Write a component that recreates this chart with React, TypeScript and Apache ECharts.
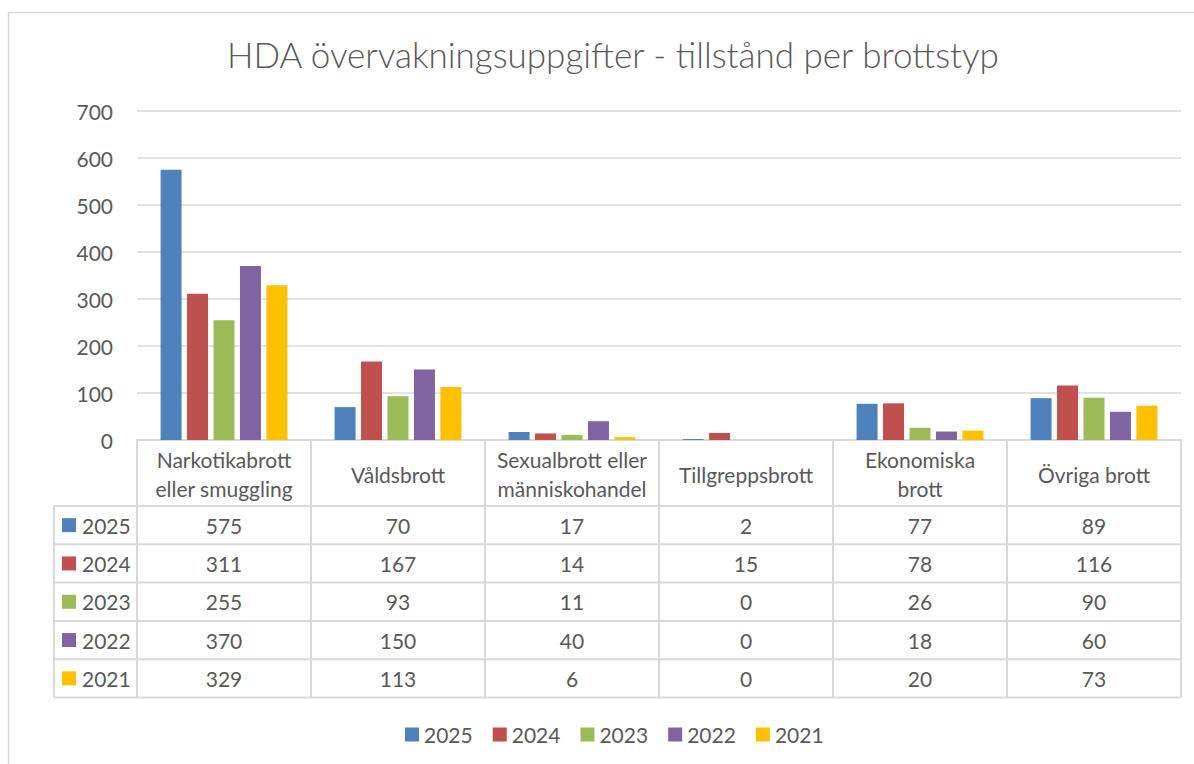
import React, { useEffect, useRef } from "react";
import * as echarts from "echarts";

const categories = [
  "Narkotikabrott\neller smuggling",
  "Våldsbrott",
  "Sexualbrott eller\nmänniskohandel",
  "Tillgreppsbrott",
  "Ekonomiska\nbrott",
  "Övriga brott",
];
const years = ["2025", "2024", "2023", "2022", "2021"];
const v2025 = [575, 70, 17, 2, 77, 89];
const v2024 = [311, 167, 14, 15, 78, 116];
const v2023 = [255, 93, 11, 0, 26, 90];
const v2022 = [370, 150, 40, 0, 18, 60];
const v2021 = [329, 113, 6, 0, 20, 73];
const seriesValues = [v2025, v2024, v2023, v2022, v2021];
const colors = ["#4F81BD", "#C0504D", "#9BBB59", "#8064A2", "#FFC000"];
const yMin = 0;
const yMax = 700;
const yInterval = 100;

const FONT = "Lato, 'Open Sans', sans-serif";
const TXT = "#595959";
const LINE = "#d9d9d9";
const FS = 21;

export default function App() {
  const ref = useRef<HTMLDivElement>(null);
  useEffect(() => {
    document.body.style.margin = "0";
    const chart = echarts.init(ref.current!, null, { renderer: "svg" });
    const option: any = {
      animation: false,
      backgroundColor: "#ffffff",
      color: colors,
      textStyle: { fontFamily: FONT },
      title: {
        text: "HDA övervakningsuppgifter - tillstånd per brottstyp",
        left: 608,
        top: 31,
        textAlign: "center",
        textStyle: { fontFamily: FONT, fontSize: 35, fontWeight: 300, color: TXT },
      },
      legend: {
        data: years,
        left: 400,
        top: 719,
        icon: "rect",
        itemWidth: 14,
        itemHeight: 14,
        itemGap: 20,
        textStyle: { fontFamily: FONT, fontSize: FS, color: TXT },
      },
      grid: { left: 137, right: 13, top: 111, bottom: 324, containLabel: false },
      xAxis: {
        type: "category",
        data: categories,
        axisLine: { show: true, lineStyle: { color: LINE, width: 2 } },
        axisTick: { show: false },
        axisLabel: {
          interval: 0,
          fontFamily: FONT,
          fontSize: FS,
          color: TXT,
          lineHeight: 29,
          margin: 34,
          verticalAlign: "middle",
          align: "center",
        },
      },
      yAxis: {
        type: "value",
        min: yMin,
        max: yMax,
        interval: yInterval,
        axisLine: { show: false },
        axisTick: { show: false },
        axisLabel: { fontFamily: FONT, fontSize: FS, color: TXT, margin: 24 },
        splitLine: { lineStyle: { color: LINE, width: 1.5 } },
      },
      series: years.map((y, i) => ({
        name: y,
        type: "bar",
        data: seriesValues[i],
        barWidth: 21,
        barGap: "26%",
        itemStyle: { color: colors[i] },
      })),
    };
    chart.setOption(option);

    const c0 = chart.convertToPixel({ xAxisIndex: 0 }, 0) as number;
    const c1 = chart.convertToPixel({ xAxisIndex: 0 }, 1) as number;
    const band = c1 - c0;
    const left = c0 - band / 2;
    const right = left + band * categories.length;
    const yBase = chart.convertToPixel({ yAxisIndex: 0 }, 0) as number;
    const headerH = 66;
    const rowH = 38.3;
    const legendLeft = 54;
    const bodyTop = yBase + headerH;
    const bottom = bodyTop + rowH * years.length;

    const g: any[] = [];
    g.push({
      type: "rect",
      shape: { x: 8.5, y: 12.5, width: 1400, height: 900 },
      style: { fill: "none", stroke: LINE, lineWidth: 1.5 },
      silent: true,
      z: -1,
    });
    for (let k = 0; k <= years.length; k++) {
      const y = bodyTop + k * rowH;
      g.push({
        type: "line",
        shape: { x1: legendLeft, y1: y, x2: right, y2: y },
        style: { stroke: LINE, lineWidth: 2 },
        silent: true,
      });
    }
    for (let i = 0; i <= categories.length; i++) {
      const x = left + i * band;
      g.push({
        type: "line",
        shape: { x1: x, y1: yBase, x2: x, y2: bottom },
        style: { stroke: LINE, lineWidth: 2 },
        silent: true,
      });
    }
    g.push({
      type: "line",
      shape: { x1: legendLeft, y1: bodyTop, x2: legendLeft, y2: bottom },
      style: { stroke: LINE, lineWidth: 2 },
      silent: true,
    });
    years.forEach((yr, s) => {
      const cy = bodyTop + (s + 0.5) * rowH;
      g.push({
        type: "rect",
        shape: { x: 62, y: cy - 7, width: 14, height: 14 },
        style: { fill: colors[s] },
        silent: true,
      });
      g.push({
        type: "text",
        x: 82,
        y: cy,
        style: { text: yr, fill: TXT, fontSize: FS, fontFamily: FONT, verticalAlign: "middle", align: "left" },
        silent: true,
      });
      seriesValues[s].forEach((v, i) => {
        const cx = chart.convertToPixel({ xAxisIndex: 0 }, i) as number;
        g.push({
          type: "text",
          x: cx,
          y: cy,
          style: { text: String(v), fill: TXT, fontSize: FS, fontFamily: FONT, verticalAlign: "middle", align: "center" },
          silent: true,
        });
      });
    });
    chart.setOption({ graphic: g });

    return () => chart.dispose();
  }, []);
  return <div ref={ref} style={{ width: 1194, height: 764 }} />;
}
